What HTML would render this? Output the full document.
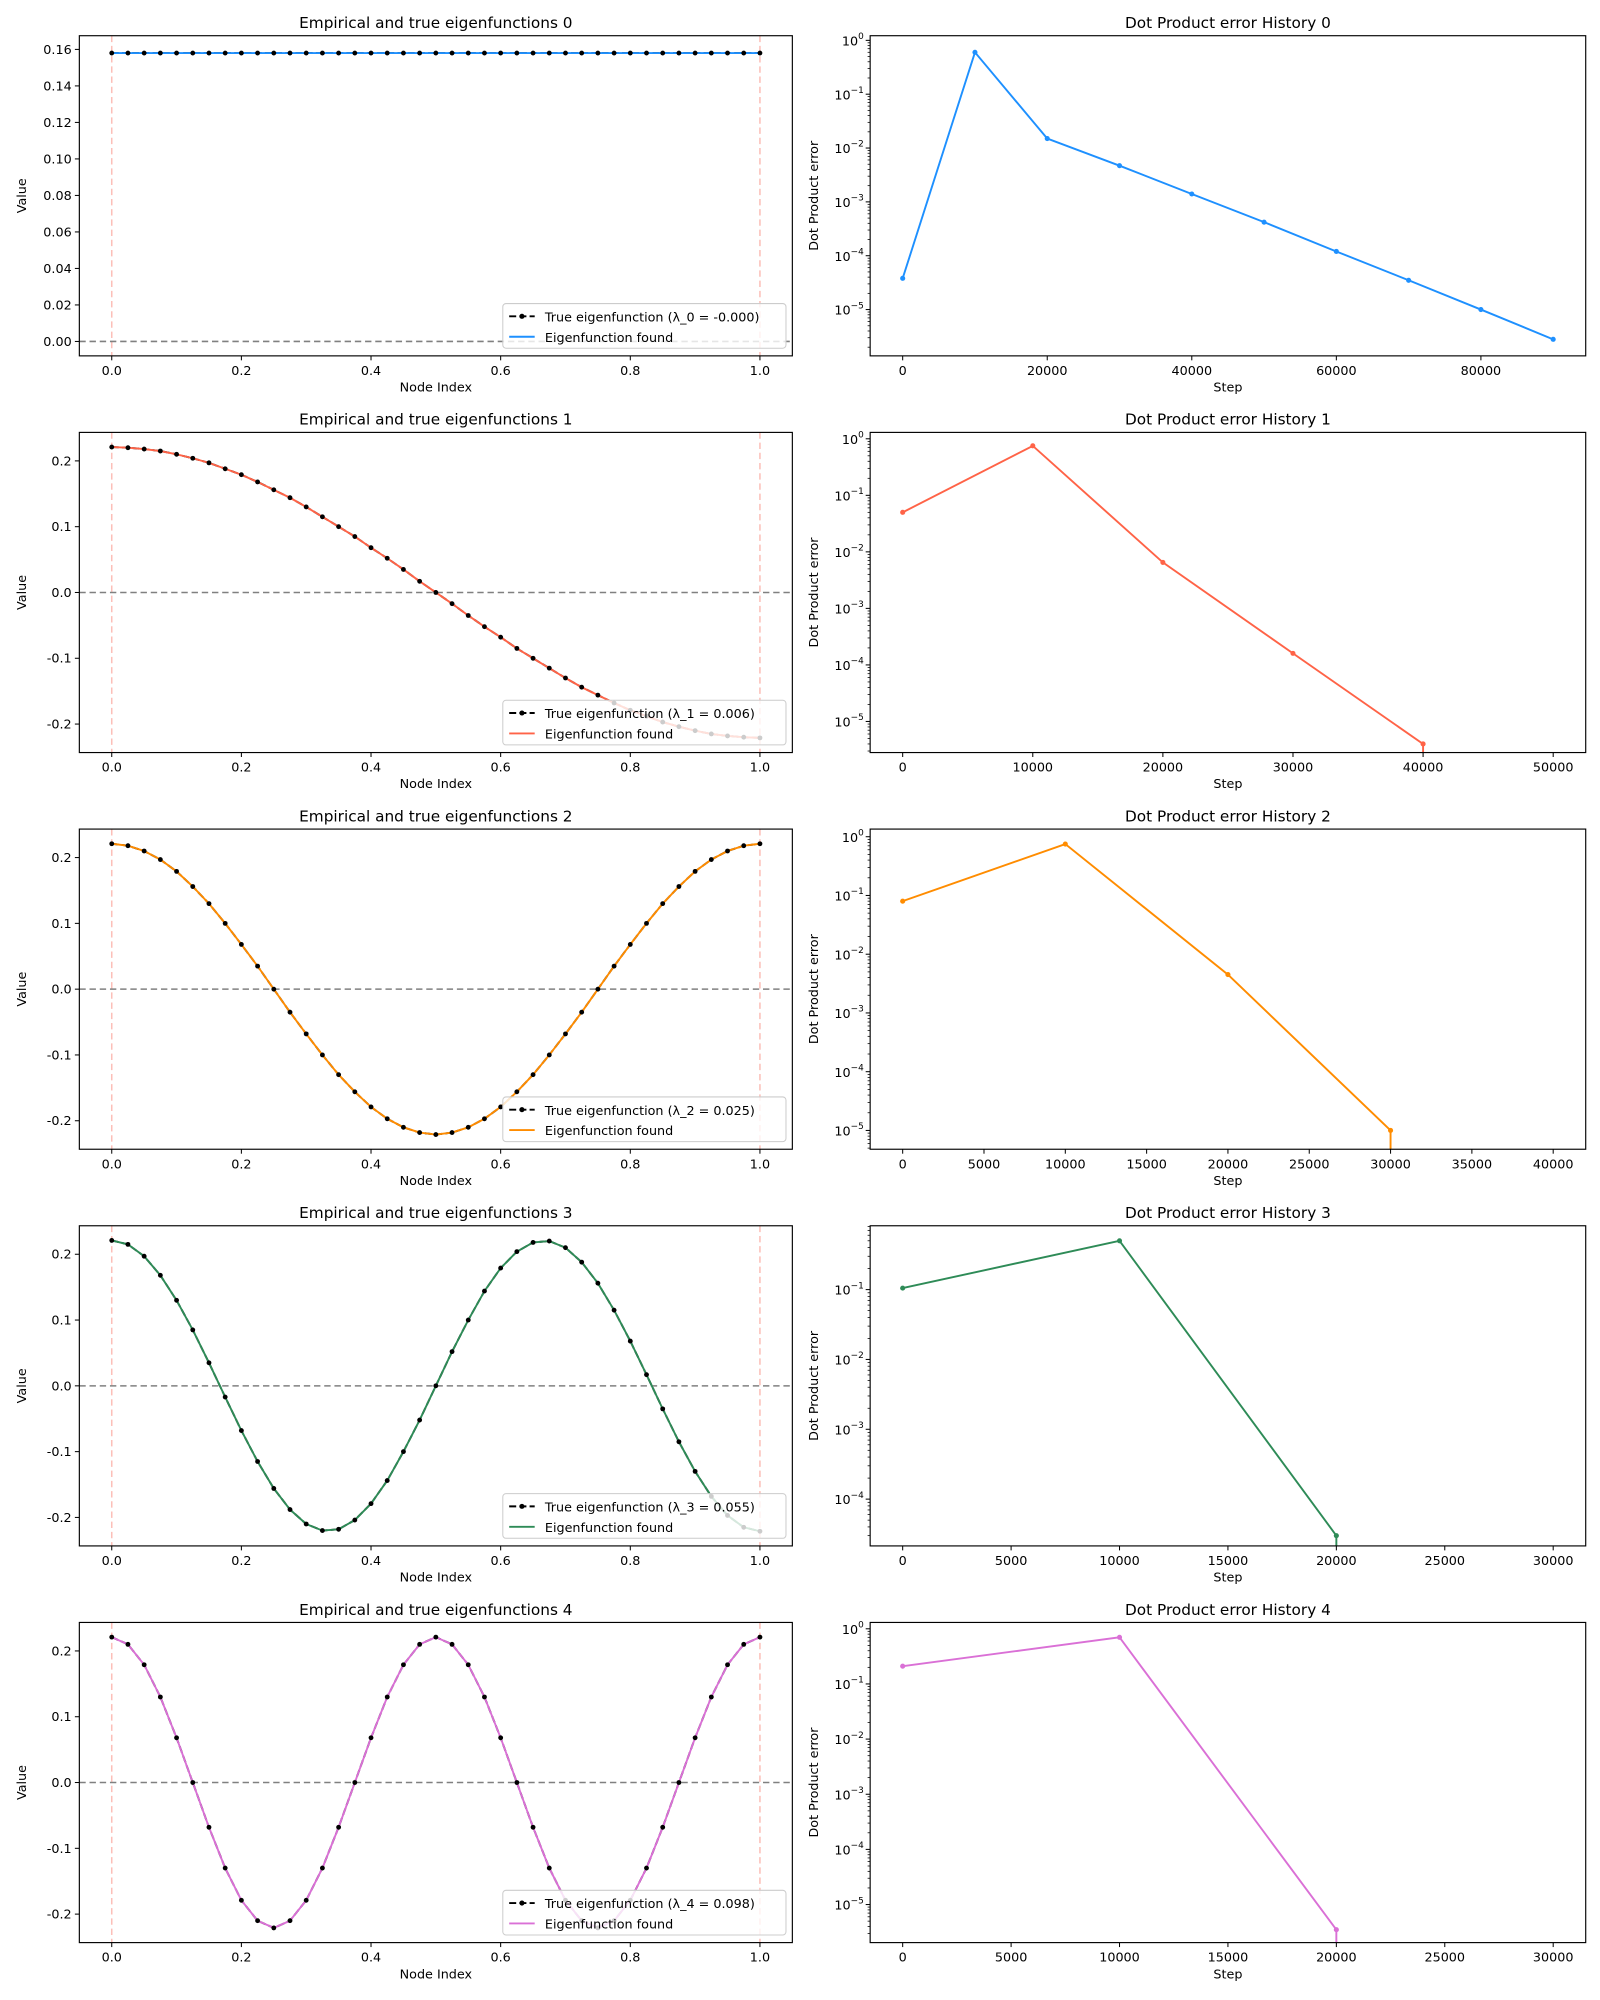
<!DOCTYPE html>
<html><head><meta charset="utf-8"><style>
html,body{margin:0;padding:0;background:#fff;}
svg{display:block;font-family:"DejaVu Sans","Liberation Sans",sans-serif;}
</style></head><body>
<svg id="fig" xmlns="http://www.w3.org/2000/svg" width="1600" height="2000" viewBox="0 0 1254 1568"></svg>
<script>
const nodeX=[0,0.025,0.05,0.075,0.1,0.125,0.15,0.175,0.2,0.225,0.25,0.275,0.3,0.325,0.35,0.375,0.4,0.425,0.45,0.475,0.5,0.525,0.55,0.575,0.6,0.625,0.65,0.675,0.7,0.725,0.75,0.775,0.8,0.825,0.85,0.875,0.9,0.925,0.95,0.975,1];
const eig0=[0.158,0.158,0.158,0.158,0.158,0.158,0.158,0.158,0.158,0.158,0.158,0.158,0.158,0.158,0.158,0.158,0.158,0.158,0.158,0.158,0.158,0.158,0.158,0.158,0.158,0.158,0.158,0.158,0.158,0.158,0.158,0.158,0.158,0.158,0.158,0.158,0.158,0.158,0.158,0.158,0.158];
const eig1=[.221,.220,.218,.215,.210,.204,.197,.188,.179,.168,.156,.144,.130,.115,.100,.085,.068,.052,.035,.017,0,-.017,-.035,-.052,-.068,-.085,-.100,-.115,-.130,-.144,-.156,-.168,-.179,-.188,-.197,-.204,-.210,-.215,-.218,-.220,-.221];
const eig2=[.221,.218,.210,.197,.179,.156,.130,.100,.068,.035,0,-.035,-.068,-.100,-.130,-.156,-.179,-.197,-.210,-.218,-.221,-.218,-.210,-.197,-.179,-.156,-.130,-.100,-.068,-.035,0,.035,.068,.100,.130,.156,.179,.197,.210,.218,.221];
const eig3=[.221,.215,.197,.168,.130,.085,.035,-.017,-.068,-.115,-.156,-.188,-.210,-.220,-.218,-.204,-.179,-.144,-.100,-.052,0,.052,.100,.144,.179,.204,.218,.220,.210,.188,.156,.115,.068,.017,-.035,-.085,-.130,-.168,-.197,-.215,-.221];
const eig4=[.221,.210,.179,.130,.068,0,-.068,-.130,-.179,-.210,-.221,-.210,-.179,-.130,-.068,0,.068,.130,.179,.210,.221,.210,.179,.130,.068,0,-.068,-.130,-.179,-.210,-.221,-.210,-.179,-.130,-.068,0,.068,.130,.179,.210,.221];
const lambdas=["-0.000","0.006","0.025","0.055","0.098"];
const ticksY0=[0,0.02,0.04,0.06,0.08,0.10,0.12,0.14,0.16];
const ticksYk=[-0.2,-0.1,0,0.1,0.2];
const ticksXnode=[0,0.2,0.4,0.6,0.8,1.0];
const steps0=[0,10000,20000,30000,40000,50000,60000,70000,80000,90000];
const err0=[3.8e-5,0.6,0.015,0.0047,0.0014,4.2e-4,1.2e-4,3.5e-5,1.0e-5,2.8e-6];
const steps1=[0,10000,20000,30000,40000,50000];
const err1=[0.05,0.75,0.0065,1.6e-4,4e-6,0];
const steps2=[0,10000,20000,30000,40000];
const err2=[0.08,0.75,0.0045,1.0e-5,0];
const steps3=[0,10000,20000,30000];
const err3=[0.105,0.5,3.0e-5,0];
const steps4=[0,10000,20000,30000];
const err4=[0.21,0.7,3.5e-6,0];
const ticksStep0=[0,20000,40000,60000,80000];
const ticksStep1=[0,10000,20000,30000,40000,50000];
const ticksStep2=[0,5000,10000,15000,20000,25000,30000,35000,40000];
const ticksStep3=[0,5000,10000,15000,20000,25000,30000];

const NS="http://www.w3.org/2000/svg";
const svg=document.getElementById('fig');
function el(tag,attrs,parent,txt){const e=document.createElementNS(NS,tag);for(const k in attrs)e.setAttribute(k,attrs[k]);if(txt!==undefined)e.textContent=txt;(parent||svg).appendChild(e);return e;}
const colors=["#1e90ff","#ff6347","#ff8c00","#2e8b57","#da70d6"];
const rowTop=[28,339,650,961,1272];const H=251;
const L={x0:62,x1:621},R={x0:682,x1:1243};
const leftData=[eig0,eig1,eig2,eig3,eig4];
const rightSteps=[steps0,steps1,steps2,steps3,steps4];
const rightErr=[err0,err1,err2,err3,err4];
const rightXT=[ticksStep0,ticksStep1,ticksStep2,ticksStep3,ticksStep3];
const rightXmax=[90000,50000,40000,30000,30000];
const rightYlim=[[-5.86,0.086],[-5.55,0.113],[-5.32,0.13],[-4.67,-0.086],[-5.69,0.115]];
function fmt(v,d){return v.toFixed(d);}

for(let p=0;p<5;p++){
  const top=rowTop[p],bot=top+H,col=colors[p];
  const g=el('g',{},svg);
  
  
  const ymin=p===0?-0.0079:-0.2433, ymax=p===0?0.1675:0.2433;
  const xs=v=>L.x0+(v+0.05)/1.1*(L.x1-L.x0);
  const ys=v=>bot-(v-ymin)/(ymax-ymin)*H;
  const cid='clipL'+p;
  const cp=el('clipPath',{id:cid},g);el('rect',{x:L.x0,y:top,width:L.x1-L.x0,height:H},cp);
  const pg=el('g',{'clip-path':'url(#'+cid+')'},g);
  el('line',{x1:xs(0),x2:xs(0),y1:top,y2:bot,stroke:'#fa8072','stroke-opacity':0.5,'stroke-width':1.2,'stroke-dasharray':'5,3'},pg);
  el('line',{x1:xs(1),x2:xs(1),y1:top,y2:bot,stroke:'#fa8072','stroke-opacity':0.5,'stroke-width':1.2,'stroke-dasharray':'5,3'},pg);
  el('line',{x1:L.x0,x2:L.x1,y1:ys(0),y2:ys(0),stroke:'#808080','stroke-width':1.2,'stroke-dasharray':'5,3'},pg);
  const dat=leftData[p];
  const ptsT=nodeX.map((x,i)=>xs(x)+','+ys(dat[i])).join(' ');
  const tl=el('polyline',{points:ptsT,fill:'none',stroke:'#000','stroke-width':1.5,'stroke-dasharray':'5.5,2.5'},pg);
  
  
  const fl=el('polyline',{points:ptsT,fill:'none',stroke:col,'stroke-width':1.5},pg);
  
  
  nodeX.forEach((x,i)=>{const c=el('circle',{cx:xs(x),cy:ys(dat[i]),r:1.9,fill:'#000'},pg);
    
    });
  el('rect',{x:L.x0,y:top,width:L.x1-L.x0,height:H,fill:'none',stroke:'#000','stroke-width':0.9},g);
  const yt=p===0?ticksY0:ticksYk;
  yt.forEach(v=>{const y=ys(v);el('line',{x1:L.x0-3.5,x2:L.x0,y1:y,y2:y,stroke:'#000','stroke-width':0.8},g);
    const t=el('text',{x:L.x0-6,y:y+3.5,'font-size':10,'text-anchor':'end'},g,p===0?fmt(v,2):fmt(v,1));
    });
  ticksXnode.forEach(v=>{const x=xs(v);el('line',{x1:x,x2:x,y1:bot,y2:bot+3.5,stroke:'#000','stroke-width':0.8},g);
    const t=el('text',{x:x,y:bot+15,'font-size':10,'text-anchor':'middle'},g,fmt(v,1));
    });
  const ti=el('text',{x:(L.x0+L.x1)/2,y:top-6,'font-size':12,'text-anchor':'middle'},g,'Empirical and true eigenfunctions '+p);
  
  const xl=el('text',{x:(L.x0+L.x1)/2,y:bot+28,'font-size':10,'text-anchor':'middle'},g,'Node Index');
  
  const yl=el('text',{x:0,y:0,'font-size':10,'text-anchor':'middle',transform:'translate(20,'+(top+H/2)+') rotate(-90)'},g,'Value');
  
  const lg=el('g',{},g);
  
  const lx=L.x1-227,ly=bot-41;
  el('rect',{x:lx,y:ly,width:222,height:35,rx:2.5,fill:'#fff','fill-opacity':0.8,stroke:'#ccc','stroke-width':0.8},lg);
  el('line',{x1:lx+5,x2:lx+25,y1:ly+10,y2:ly+10,stroke:'#000','stroke-width':1.5,'stroke-dasharray':'5.5,2.5'},lg);
  el('circle',{cx:lx+15,cy:ly+10,r:2,fill:'#000'},lg);
  el('text',{x:lx+33,y:ly+14,'font-size':10},lg,'True eigenfunction (λ_'+p+' = '+lambdas[p]+')');
  el('line',{x1:lx+5,x2:lx+25,y1:ly+26,y2:ly+26,stroke:col,'stroke-width':1.5},lg);
  el('text',{x:lx+33,y:ly+30,'font-size':10},lg,'Eigenfunction found');

  const g2=el('g',{},svg);
  
  
  const xm=rightXmax[p],pad=xm*0.05;
  const xr=v=>R.x0+(v+pad)/(xm+2*pad)*(R.x1-R.x0);
  const [lmin,lmax]=rightYlim[p];
  const yr=v=>v<=0?bot+20:bot-(Math.log10(v)-lmin)/(lmax-lmin)*H;
  const cid2='clipR'+p;
  const cp2=el('clipPath',{id:cid2},g2);el('rect',{x:R.x0,y:top,width:R.x1-R.x0,height:H},cp2);
  const pg2=el('g',{'clip-path':'url(#'+cid2+')'},g2);
  const st=rightSteps[p],er=rightErr[p];
  const ptsAdj=st.map((s,i)=>{let x=xr(s);if(er[i]<=0&&i>0)x=xr(st[i-1]);return x+','+yr(er[i]);}).join(' ');
  const el2=el('polyline',{points:ptsAdj,fill:'none',stroke:col,'stroke-width':1.5},pg2);
  
  
  st.forEach((s,i)=>{if(er[i]>0){const c=el('circle',{cx:xr(s),cy:yr(er[i]),r:2,fill:col},pg2);
    
    }});
  el('rect',{x:R.x0,y:top,width:R.x1-R.x0,height:H,fill:'none',stroke:'#000','stroke-width':0.9},g2);
  for(let k=Math.floor(lmin);k<=Math.ceil(lmax);k++){
    for(let m=1;m<10;m++){const lv=k+Math.log10(m);if(lv<lmin||lv>lmax)continue;
      const y=bot-(lv-lmin)/(lmax-lmin)*H;
      el('line',{x1:R.x0-(m===1?3.5:2),x2:R.x0,y1:y,y2:y,stroke:'#000','stroke-width':m===1?0.8:0.6},g2);
      if(m===1){const t=el('text',{x:R.x0-5,y:y+4,'font-size':10,'text-anchor':'end'},g2);
        
        el('tspan',{},t,'10');el('tspan',{'font-size':7,dy:-5},t,k===0?'0':'−'+(-k));}
    }
  }
  rightXT[p].forEach(v=>{const x=xr(v);el('line',{x1:x,x2:x,y1:bot,y2:bot+3.5,stroke:'#000','stroke-width':0.8},g2);
    const t=el('text',{x:x,y:bot+15,'font-size':10,'text-anchor':'middle'},g2,String(v));
    });
  const t2=el('text',{x:(R.x0+R.x1)/2,y:top-6,'font-size':12,'text-anchor':'middle'},g2,'Dot Product error History '+p);
  
  const x2l=el('text',{x:(R.x0+R.x1)/2,y:bot+28,'font-size':10,'text-anchor':'middle'},g2,'Step');
  
  const y2l=el('text',{x:0,y:0,'font-size':10,'text-anchor':'middle',transform:'translate(641,'+(top+H/2)+') rotate(-90)'},g2,'Dot Product error');
  
}
</script>
</body></html>
